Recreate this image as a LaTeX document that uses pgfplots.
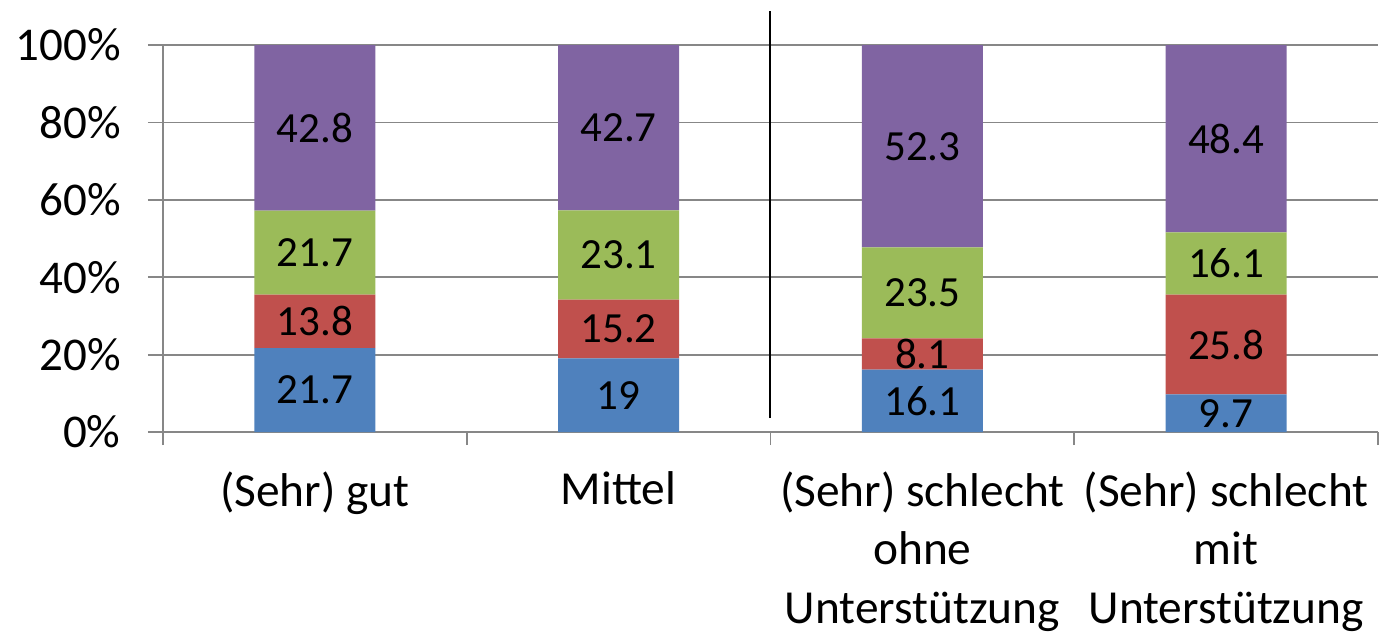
\documentclass[border=0pt]{standalone}
\usepackage{fontspec}
\setmainfont{Carlito}
\usepackage{pgfplots}
\usepackage{pgfplotstable}
\pgfplotsset{compat=1.18}
\definecolor{cBlue}{HTML}{4F81BD}
\definecolor{cRed}{HTML}{C0504D}
\definecolor{cGreen}{HTML}{9BBB59}
\definecolor{cPurple}{HTML}{8064A2}
\definecolor{gridgray}{HTML}{878787}
\pgfplotstableread{
x a b c d
0 21.7 13.8 21.7 42.8
1 19 15.2 23.1 42.7
2 16.1 8.1 23.5 52.3
3 9.7 25.8 16.1 48.4
}\data
\pgfplotsset{
  seg/.style={draw=none, fill=#1, nodes near coords, point meta=explicit symbolic,
    every node near coord/.append style={anchor=center,
      font=\fontsize{21.5}{25}\selectfont, text=black, inner sep=0pt}}
}
\begin{document}
\begin{tikzpicture}
\begin{axis}[
  scale only axis, width=607.5pt, height=193.5pt,
  ybar stacked, bar width=60.5pt,
  xmin=-0.5, xmax=3.5, ymin=0, ymax=100,
  axis x line*=bottom, axis y line*=left,
  axis line style={draw=gridgray, line width=0.9pt, -},
  ytick={0,20,...,100},
  yticklabel={\pgfmathprintnumber{\tick}\%},
  /pgf/number format/assume math mode=true,
  ymajorgrids, grid style={draw=gridgray, line width=0.9pt},
  tick align=outside,
  major tick length=7.5pt, minor tick length=6.5pt,
  tick style={draw=gridgray, line width=0.9pt},
  xtick={0,1,2,3},
  major x tick style={draw=none},
  minor xtick={-0.5,0.5,1.5,2.5,3.5},
  xticklabels={{(Sehr) gut},{Mittel},{(Sehr) schlecht\\ohne\\Unterstützung},{(Sehr) schlecht\\mit\\Unterstützung}},
  xticklabel style={align=center, inner sep=0pt, yshift=-12pt, font=\fontsize{23.7}{29.3}\selectfont},
  yticklabel style={inner sep=0pt, xshift=-13.5pt, font=\fontsize{23.5}{27}\selectfont},
  clip=false,
]
\addplot[seg=cBlue] table[x=x, y=a, meta=a]{\data};
\addplot[seg=cRed] table[x=x, y=b, meta=b]{\data};
\addplot[seg=cGreen] table[x=x, y=c, meta=c]{\data};
\addplot[seg=cPurple] table[x=x, y=d, meta=d]{\data};
\draw[black, line width=1pt] (axis cs:1.5,3.6) -- (axis cs:1.5,108.8);
\coordinate (bl) at (axis cs:-1.0366,-51.94);
\coordinate (tr) at (axis cs:3.5066,111.63);
\end{axis}
\pgfresetboundingbox
\path (bl) rectangle (tr);
\end{tikzpicture}
\end{document}
